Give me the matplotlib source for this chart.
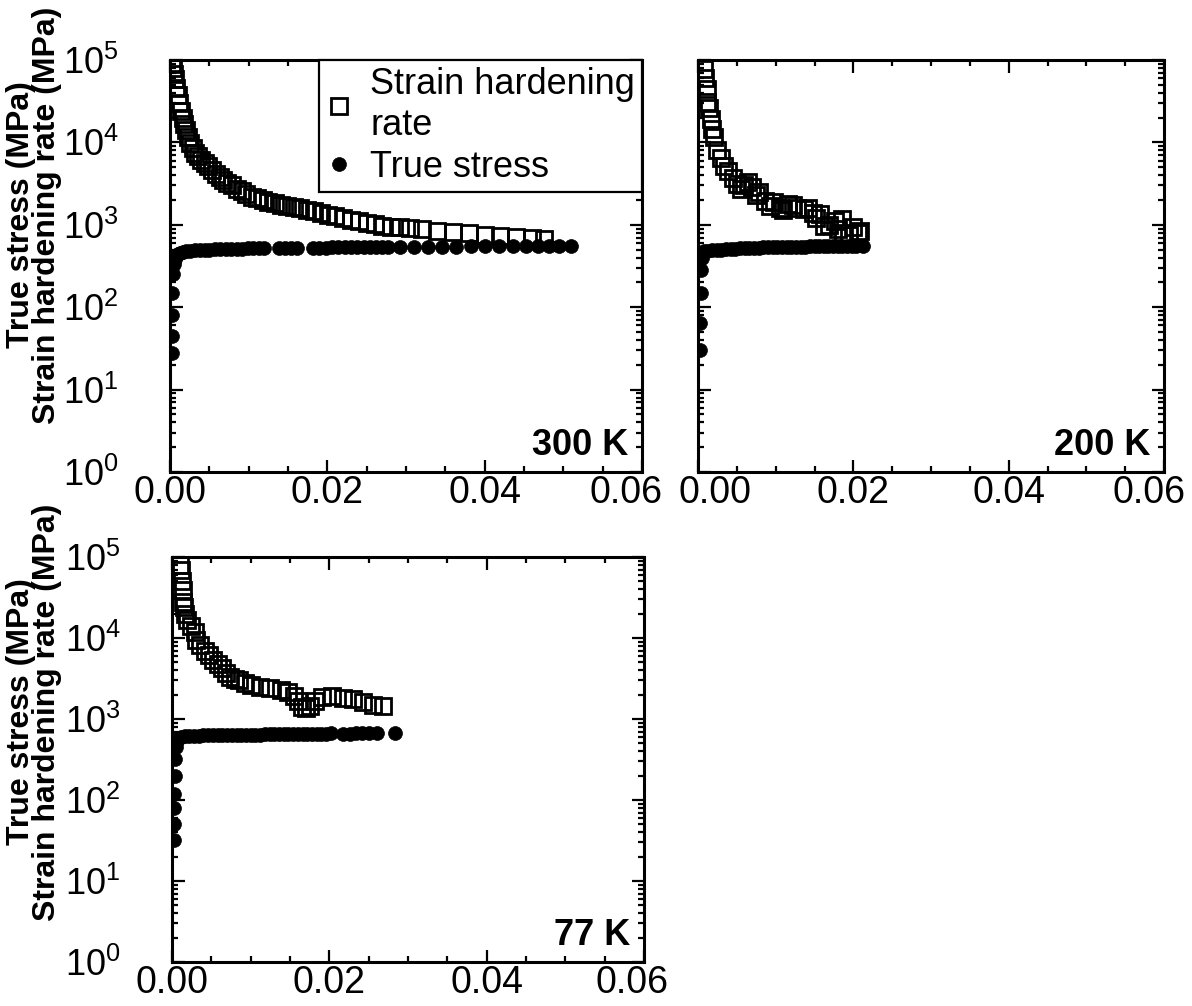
import matplotlib
matplotlib.use('Agg')
import matplotlib.pyplot as plt
from matplotlib.ticker import (LogLocator, MultipleLocator, NullFormatter,
                               FormatStrFormatter)
from matplotlib.transforms import ScaledTranslation
from matplotlib.lines import Line2D

plt.rcParams['font.family'] = ['Liberation Sans', 'DejaVu Sans']
plt.rcParams['mathtext.fontset'] = 'custom'
plt.rcParams['mathtext.rm'] = 'Liberation Sans'
plt.rcParams['mathtext.it'] = 'Liberation Sans:italic'
plt.rcParams['mathtext.bf'] = 'Liberation Sans:bold'

# ---------------- data ----------------
# 300 K
h300_x = [0.0003, 0.0004, 0.0005, 0.0006, 0.0008, 0.0010, 0.0012, 0.0014, 0.0016, 0.0018,
          0.0020, 0.0023, 0.0026, 0.0029, 0.0032, 0.0036, 0.0040, 0.0044, 0.0048, 0.0053,
          0.0058, 0.0063, 0.0068, 0.0073, 0.0079, 0.0085, 0.0091, 0.0097, 0.0104, 0.0111,
          0.0118, 0.0125, 0.0133, 0.0141, 0.0149, 0.0157, 0.0165, 0.0174, 0.0183, 0.0192,
          0.0201, 0.0210, 0.0220, 0.0230, 0.0240, 0.0250, 0.0260, 0.0270, 0.0281, 0.0292,
          0.0305, 0.0320, 0.0340, 0.0360, 0.0380, 0.0400, 0.0420, 0.0440, 0.0460, 0.0475]
h300_y = [90000, 80000, 68000, 58000, 46000, 38000, 30000, 24000, 20000, 16500,
          14000, 11500, 9800, 8500, 7500, 6800, 6200, 5600, 5100, 4600,
          4100, 3750, 3450, 3250, 3000, 2750, 2550, 2350, 2200, 2100,
          2000, 1900, 1820, 1750, 1680, 1630, 1580, 1520, 1460, 1400,
          1330, 1270, 1210, 1150, 1100, 1060, 1020, 970, 950, 930,
          910, 880, 850, 820, 790, 760, 740, 720, 700, 680]
s300_x = [0.0002, 0.0002, 0.0003, 0.0003, 0.0004, 0.0005, 0.0006, 0.0008, 0.0010, 0.0013,
          0.0016, 0.0020, 0.0026, 0.0032, 0.0038, 0.0044, 0.0050, 0.0057, 0.0064, 0.0071,
          0.0078, 0.0085, 0.0092, 0.0099, 0.0106, 0.0113, 0.0120, 0.0138, 0.0146, 0.0154,
          0.0162, 0.0182, 0.0190, 0.0198, 0.0206, 0.0214, 0.0222, 0.0230, 0.0238, 0.0246,
          0.0254, 0.0262, 0.0270, 0.0277, 0.0292, 0.0310, 0.0328, 0.0346, 0.0364, 0.0382,
          0.0400, 0.0418, 0.0436, 0.0452, 0.0468, 0.0482, 0.0494, 0.0510]
s300_y = [28, 45, 80, 150, 250, 330, 380, 420, 440, 455,
          465, 475, 482, 488, 493, 497, 500, 503, 506, 508,
          510, 512, 514, 516, 518, 519, 520, 523, 524, 525,
          526, 528, 529, 530, 531, 532, 533, 534, 535, 536,
          537, 538, 539, 540, 541, 542, 543, 544, 545, 546,
          547, 548, 549, 550, 551, 552, 553, 555]

# 200 K
h200_x = [0.0008, 0.0009, 0.0011, 0.0012, 0.0014, 0.0017, 0.0018, 0.0021, 0.0024, 0.0029,
          0.0033, 0.0038, 0.0045, 0.0050, 0.0059, 0.0070, 0.0079, 0.0086, 0.0093, 0.0105,
          0.0116, 0.0128, 0.0137, 0.0148, 0.0157, 0.0162, 0.0169, 0.0176, 0.0185, 0.0187,
          0.0194, 0.0206, 0.0208,
          0.0055, 0.0065, 0.0075, 0.0098, 0.0110, 0.0122, 0.0142, 0.0152, 0.0180, 0.0200]
h200_y = [77000, 60000, 44000, 31000, 26000, 19500, 14500, 11500, 8200, 6400,
          5100, 4500, 3650, 3150, 3000, 2900, 2500, 1950, 1700, 1620,
          1780, 1620, 1550, 1400, 1350, 960, 1000, 1100, 1170, 800,
          760, 800, 830,
          2700, 3300, 2300, 1900, 1500, 1750, 1600, 1200, 900, 950]
s200_x = [0.0003, 0.0003, 0.0004, 0.0004, 0.0005, 0.0006, 0.0008, 0.0012, 0.0018, 0.0024,
          0.0030, 0.0036, 0.0042, 0.0048, 0.0054, 0.0060, 0.0066, 0.0072, 0.0078, 0.0084,
          0.0090, 0.0096, 0.0102, 0.0108, 0.0114, 0.0120, 0.0126, 0.0132, 0.0138, 0.0144,
          0.0150, 0.0156, 0.0162, 0.0168, 0.0174, 0.0180, 0.0186, 0.0192, 0.0198, 0.0204,
          0.0212]
s200_y = [30, 65, 150, 280, 400, 460, 480, 485, 490, 495,
          500, 505, 510, 515, 520, 523, 526, 528, 530, 532,
          534, 536, 538, 540, 541, 542, 543, 544, 545, 546,
          547, 548, 549, 550, 551, 552, 553, 554, 555, 556,
          558]

# 77 K
h77_x = [0.0010, 0.0012, 0.0013, 0.0014, 0.0014, 0.0015, 0.0017, 0.0019, 0.0024, 0.0029,
         0.0031, 0.0036, 0.0042, 0.0047, 0.0052, 0.0058, 0.0063, 0.0069, 0.0074, 0.0080,
         0.0085, 0.0093, 0.0100, 0.0112, 0.0125, 0.0138, 0.0148, 0.0155, 0.0160, 0.0165,
         0.0170, 0.0176, 0.0182, 0.0191, 0.0204, 0.0217, 0.0230, 0.0243, 0.0255, 0.0268]
h77_y = [80000, 69000, 50000, 39000, 28000, 24000, 20000, 16500, 14000, 11700,
         9500, 8300, 7000, 6200, 5400, 4800, 4300, 3700, 3300, 3100,
         3000, 2800, 2650, 2500, 2400, 2300, 2150, 1900, 1650, 1400,
         1350, 1450, 1650, 1850, 1900, 1800, 1750, 1600, 1500, 1450]
s77_x = [0.0002, 0.0002, 0.0003, 0.0003, 0.0004, 0.0004, 0.0005, 0.0006, 0.0008, 0.0011,
         0.0016, 0.0022, 0.0028, 0.0034, 0.0040, 0.0046, 0.0052, 0.0058, 0.0064, 0.0070,
         0.0076, 0.0082, 0.0088, 0.0094, 0.0100, 0.0106, 0.0112, 0.0118, 0.0124, 0.0130,
         0.0136, 0.0142, 0.0148, 0.0154, 0.0160, 0.0166, 0.0172, 0.0178, 0.0184, 0.0190,
         0.0196, 0.0202, 0.0218, 0.0226, 0.0234, 0.0242, 0.0250, 0.0260, 0.0284]
s77_y = [32, 50, 80, 120, 200, 320, 450, 540, 580, 600,
         610, 615, 620, 623, 626, 628, 630, 632, 634, 636,
         637, 638, 639, 640, 641, 642, 643, 644, 645, 646,
         647, 648, 649, 650, 651, 652, 653, 654, 655, 656,
         658, 665, 660, 662, 664, 666, 668, 670, 675]

temps = ['300 K', '200 K', '77 K']
legend_labels = ['Strain hardening\nrate', 'True stress']
ylabel_text = 'True stress (MPa)\nStrain hardening rate (MPa)'
x_ticks = [0.00, 0.02, 0.04, 0.06]

# ---------------- figure ----------------
W, H = 1192, 1006
fig = plt.figure(figsize=(W / 100, H / 100), dpi=100)


def px_axes(left, right, top, bottom):
    return fig.add_axes([left / W, 1 - bottom / H, (right - left) / W, (bottom - top) / H])


ax1 = px_axes(170, 642, 60, 472)
ax2 = px_axes(698, 1164, 60, 472)
ax3 = px_axes(172, 644, 557, 962)

sq_style = dict(ls='none', marker='s', ms=11.5, mfc='none', mec='black', mew=2)
ci_style = dict(ls='none', marker='o', ms=10, mfc='black', mec='black', mew=0.5)

panels = [(ax1, h300_x, h300_y, s300_x, s300_y, temps[0]),
          (ax2, h200_x, h200_y, s200_x, s200_y, temps[1]),
          (ax3, h77_x, h77_y, s77_x, s77_y, temps[2])]

for ax, hx, hy, sx, sy, t in panels:
    ax.plot(hx, hy, **sq_style, zorder=3)
    ax.plot(sx, sy, **ci_style, zorder=4)
    ax.set_yscale('log')
    ax.set_ylim(1, 1e5)
    ax.set_xlim(0, 0.06)
    ax.set_xticks(x_ticks)
    ax.xaxis.set_minor_locator(MultipleLocator(0.005))
    ax.xaxis.set_major_formatter(FormatStrFormatter('%.2f'))
    ax.yaxis.set_major_locator(LogLocator(base=10, numticks=10))
    ax.yaxis.set_minor_locator(LogLocator(base=10, subs=range(2, 10), numticks=20))
    ax.yaxis.set_minor_formatter(NullFormatter())
    ax.tick_params(which='both', direction='in', top=True, right=True,
                   width=1.6, colors='black')
    ax.tick_params(which='major', length=9, labelsize=27)
    ax.tick_params(which='minor', length=4.5)
    ax.tick_params(axis='y', which='major', pad=37, labelsize=26)
    ax.tick_params(axis='x', which='major', pad=2.5)
    for s in ax.spines.values():
        s.set_linewidth(2.2)
    ax.text(0.970, 0.042, t, transform=ax.transAxes, ha='right', va='baseline',
            fontsize=26, fontweight='bold')

ax2.tick_params(labelleft=False)

# legend
h1 = Line2D([], [], **sq_style)
h2 = Line2D([], [], **ci_style)
leg = ax1.legend([h1, h2], legend_labels, loc='upper right', bbox_to_anchor=(1, 1),
                 borderaxespad=0, fontsize=26, frameon=True, fancybox=False,
                 edgecolor='black', framealpha=1, handlelength=0.7,
                 handletextpad=0.5, borderpad=0.2, labelspacing=0.2)
leg.get_frame().set_linewidth(1.6)
leg.set_zorder(10)

# y labels
for yc in (215, 712):
    fig.text(34 / W, 1 - yc / H, ylabel_text, rotation=90, ha='center', va='center',
             fontsize=23, fontweight='bold', linespacing=0.85, multialignment='center')


# nudge crowded end tick labels
def shift_label(ax, idx, dx_px):
    tick = ax.xaxis.get_major_ticks()[idx]
    off = ScaledTranslation(dx_px / 100, 0, fig.dpi_scale_trans)
    tick.label1.set_transform(tick.label1.get_transform() + off)


shift_label(ax1, -1, -16)
shift_label(ax2, 0, 17)
shift_label(ax2, -1, -15)
shift_label(ax3, -1, -12)

fig.savefig('out.png', dpi=100)
